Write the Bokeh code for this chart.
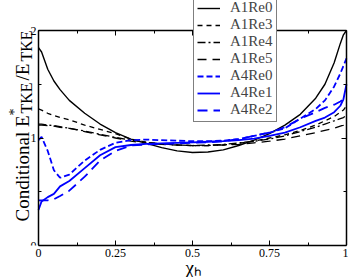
from math import pi
from bokeh.plotting import figure
from bokeh.models import Range1d, LinearAxis, FixedTicker, Legend, LegendItem, Label, Title
from bokeh.embed import file_html
from bokeh.resources import INLINE

# ---- data ----
chi = [0.0, 0.01, 0.03, 0.05, 0.07, 0.1, 0.15, 0.2, 0.25, 0.3, 0.35, 0.4, 0.45, 0.5,
       0.55, 0.6, 0.65, 0.7, 0.75, 0.8, 0.85, 0.9, 0.93, 0.96, 0.98, 0.99, 1.0]

a1re0 = [1.84, 1.80, 1.64, 1.53, 1.45, 1.35, 1.23, 1.13, 1.05, 0.99, 0.95, 0.91, 0.88, 0.865,
         0.87, 0.89, 0.93, 0.98, 1.04, 1.12, 1.22, 1.37, 1.50, 1.70, 1.88, 1.96, 2.0]
a1re3 = [1.27, 1.26, 1.23, 1.21, 1.19, 1.17, 1.12, 1.08, 1.04, 0.99, 0.96, 0.945, 0.935, 0.93,
         0.93, 0.935, 0.95, 0.97, 1.0, 1.03, 1.07, 1.12, 1.16, 1.20, 1.24, 1.26, 1.30]
a1re4 = [1.13, 1.13, 1.12, 1.115, 1.105, 1.09, 1.065, 1.035, 1.005, 0.98, 0.96, 0.945, 0.935, 0.93,
         0.935, 0.94, 0.955, 0.97, 0.99, 1.02, 1.06, 1.10, 1.13, 1.16, 1.18, 1.19, 1.21]
a1re5 = [1.12, 1.12, 1.115, 1.11, 1.10, 1.09, 1.06, 1.03, 1.0, 0.97, 0.95, 0.94, 0.935, 0.93,
         0.93, 0.935, 0.94, 0.955, 0.97, 0.99, 1.02, 1.05, 1.07, 1.09, 1.11, 1.12, 1.14]
a4re0 = [0.98, 1.01, 0.88, 0.70, 0.63, 0.66, 0.79, 0.89, 0.955, 0.98, 0.985, 0.98, 0.975, 0.97,
         0.97, 0.975, 0.99, 1.02, 1.05, 1.09, 1.18, 1.27, 1.35, 1.48, 1.60, 1.67, 1.74]
a4re1 = [0.33, 0.41, 0.45, 0.48, 0.55, 0.60, 0.72, 0.84, 0.915, 0.935, 0.945, 0.95, 0.955, 0.96,
         0.965, 0.97, 0.98, 0.995, 1.02, 1.05, 1.10, 1.16, 1.19, 1.24, 1.30, 1.36, 1.50]
a4re2 = [0.42, 0.42, 0.42, 0.43, 0.46, 0.51, 0.64, 0.79, 0.88, 0.93, 0.94, 0.945, 0.95, 0.955,
         0.96, 0.97, 0.99, 1.02, 1.05, 1.10, 1.18, 1.24, 1.28, 1.31, 1.34, 1.36, 1.38]

names = ["A1Re0", "A1Re3", "A1Re4", "A1Re5", "A4Re0", "A4Re1", "A4Re2"]
values = [a1re0, a1re3, a1re4, a1re5, a4re0, a4re1, a4re2]

x_ticks = [0, 0.25, 0.5, 0.75, 1]
x_tick_labels = ["0", "0.25", "0.5", "0.75", "1"]
x_minor = [0.125, 0.375, 0.625, 0.875]
y_ticks = [0, 1, 2]
y_tick_labels = ["0", "1", "2"]
y_minor = [0.5, 1.5]
X0, X1 = 0, 1
Y0, Y1 = 0, 2
x_title = "\u03c7\u2095"

# ---- styles / layout (page pixels) ----
colors = ["black", "black", "black", "black", "#0000ff", "#0000ff", "#0000ff"]
dashes = ["solid", "5 4", "8 3 2 3", "9 6", "6 3", "solid", "10 6"]
widths = [1.4, 1.3, 1.3, 1.3, 1.8, 1.8, 1.8]
SERIF = "Liberation Serif"

W, H = 348, 277
BOX_L, BOX_R, BOX_T, BOX_B = 38, 346, 30, 245   # plot box in page pixels
ppx = (BOX_R - BOX_L) / (X1 - X0)
ppy = (BOX_B - BOX_T) / (Y1 - Y0)
x_start = X0 - BOX_L / ppx
x_end = X1 + (W - BOX_R) / ppx
y_end = Y1 + BOX_T / ppy

p = figure(width=W, height=H, output_backend="svg", toolbar_location=None,
           x_range=Range1d(x_start, x_end), y_range=Range1d(Y0, y_end),
           min_border_left=0, min_border_right=0, min_border_top=0, min_border_bottom=H - BOX_B,
           x_axis_type=None, y_axis_type=None)
p.xgrid.visible = False
p.ygrid.visible = False
p.outline_line_color = None
p.background_fill_color = "white"
p.border_fill_color = "white"


def make_axis(ticks, minor, labels, bounds, loc=None):
    ax = LinearAxis(ticker=FixedTicker(ticks=ticks, minor_ticks=minor), bounds=bounds)
    if loc is not None:
        ax.fixed_location = loc
    ax.axis_line_color = "black"
    ax.axis_line_width = 1.5
    ax.major_tick_in = 5
    ax.major_tick_out = 0
    ax.minor_tick_in = 3
    ax.minor_tick_out = 0
    ax.major_tick_line_color = "black"
    ax.minor_tick_line_color = "black"
    if labels is not None:
        ax.major_label_text_font = SERIF
        ax.major_label_text_font_size = "12px"
        ax.major_label_text_color = "black"
        ax.major_label_overrides = {t: s for t, s in zip(ticks, labels)}
    else:
        ax.major_label_overrides = {t: "" for t in ticks}
        ax.major_label_text_font_size = "0px"
        ax.major_label_standoff = 0
    return ax


xb = make_axis(x_ticks, x_minor, x_tick_labels, (X0, X1))
xb.major_label_standoff = 3
yl = make_axis(y_ticks, y_minor, y_tick_labels, (Y0, Y1), X0)
yl.major_label_standoff = 2
xt = make_axis(x_ticks, x_minor, None, (X0, X1), Y1)
yr = make_axis(y_ticks, y_minor, None, (Y0, Y1), X1)
p.add_layout(xb, "below")
p.add_layout(yl, "left")
p.add_layout(xt, "above")
p.add_layout(yr, "right")

# x axis title under the tick labels, left edge at page x 185
xtitle = Title(text=x_title, align="left", offset=185, text_font=SERIF,
               text_font_size="19px", text_font_style="normal", text_color="black")
try:
    xtitle.standoff = -9
except Exception:
    pass
p.add_layout(xtitle, "below")

items = []
for name, vals, c, d, w in zip(names, values, colors, dashes, widths):
    r = p.line(chi, vals, line_color=c, line_dash=d, line_width=w)
    items.append(LegendItem(label=name, renderers=[r]))

legend = Legend(items=items, location=(193, BOX_B - 122))
legend.label_text_font = SERIF
legend.label_text_font_size = "15px"
legend.label_height = 12
legend.glyph_height = 12
legend.glyph_width = 23
legend.label_standoff = 10
legend.spacing = 0
legend.padding = 3
legend.margin = 0
legend.border_line_color = "black"
legend.border_line_width = 1
legend.background_fill_color = "white"
legend.background_fill_alpha = 1
p.add_layout(legend, "center")

# ---- y axis label built from pieces (page x of baseline, page y of start) ----
ylab_parts = [
    ("Conditional E", 19, 22, 221),
    ("*", 14, 14, 115),
    ("TKE", 16, 26, 113),
    ("/E", 19, 22, 80),
    ("TKE", 16, 26, 61),
]
for txt, fs, bx, by in ylab_parts:
    p.add_layout(Label(x=bx, y=BOX_B - by, x_units="screen", y_units="screen", text=txt,
                       angle=pi / 2, text_font=SERIF, text_font_size=f"{fs}px",
                       text_color="black", text_align="left", text_baseline="alphabetic"))

open("out.html", "w").write(file_html(p, INLINE))
